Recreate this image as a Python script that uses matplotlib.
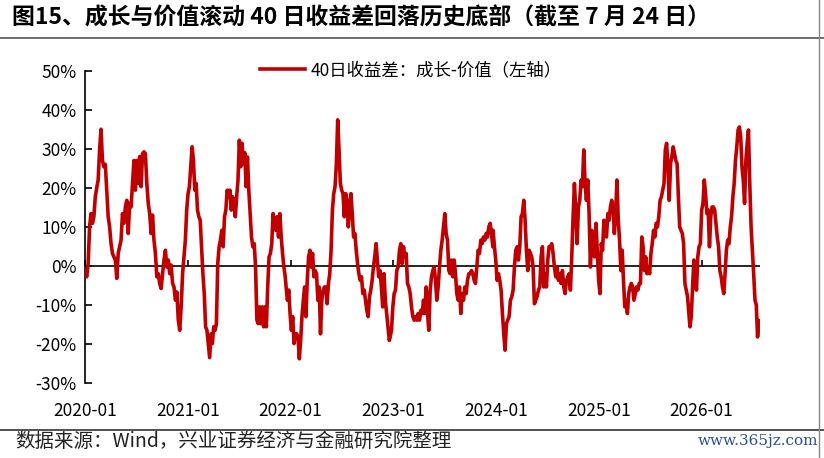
import numpy as np
import pandas as pd
import matplotlib
matplotlib.use('Agg')
import matplotlib.pyplot as plt
import matplotlib.dates as mdates
from matplotlib.ticker import FuncFormatter, MultipleLocator
from matplotlib.lines import Line2D

# 40日收益差：成长-价值（%），按年份分段读取，段内读数大致等间隔
seg_starts = ['2020-01-02', '2020-12-18', '2021-12-16', '2022-12-21',
              '2023-12-22', '2024-12-22', '2025-11-21']
seg_ends = ['2020-12-13', '2021-12-13', '2022-12-18', '2023-12-21',
            '2024-12-21', '2025-11-17', '2026-07-24']

spread_a = [-1.5, -2.8, 0.6, 10.0, 13.4, 10.9, 12.6, 17.7, 20.0, 22.0, 29.7, 35.0, 27.0, 25.4,
            26.0, 19.4, 12.6, 10.0, 5.7, 3.2, 2.3, 1.5, -3.2, 3.2, 4.9, 6.6, 13.4, 10.9, 15.1,
            16.8, 8.3, 16.0, 15.1, 21.1, 27.0, 19.4, 27.0, 21.1, 28.0, 20.3, 28.8, 29.2, 28.8,
            21.1, 16.0, 13.4, 8.3, 13.0, 6.6, 3.2, -2.8, -2.0, -4.5, -5.8, -2.0, 1.5, 4.0, -0.3,
            1.5, -2.0, 0.2, -4.5, -5.4, -8.8, -6.7, -13.9, -16.5, -10.5, -2.0]
spread_b = [2.3, 6.6, 14.3, 18.5, 20.3, 25.4, 30.5, 27.0, 19.4, 21.1, 14.3, 12.6, 11.7, 4.9, -2.0,
            -7.1, -15.6, -16.5, -19.9, -23.5, -17.4, -19.9, -15.6, -16.5, -14.8, 0.6, 4.9, 6.6,
            9.1, 4.9, 12.6, 14.3, 19.4, 17.7, 19.4, 14.3, 17.7, 16.0, 12.6, 17.7, 22.0, 32.2,
            25.4, 31.4, 26.2, 29.0, 20.3, 27.9, 19.4, 13.4, 7.4, 4.9, 5.7, -0.3, -13.9, -14.8,
            -10.5, -14.8, -10.5, -15.6, -10.5, -15.6, -5.4, 2.3, 3.2, 5.7, 13.4, 10.9, 9.1, 12.6,
            7.4, 13.4, 7.4, 3.2, -0.3, -2.8]
spread_c = [-5.4, -8.8, -6.2, -12.2, -16.5, -13.0, -19.9, -17.4, -17.4, -18.2, -23.8, -19.1,
            -13.0, -8.8, -5.4, -13.0, -3.7, 2.3, 4.0, -0.3, 3.2, -2.8, -1.2, -2.0, -8.8, -5.4,
            -17.4, -8.8, -6.2, -5.4, -5.4, -9.7, -4.5, -2.0, 4.0, 14.3, 18.5, 20.3, 26.2, 37.4,
            29.7, 21.1, 19.4, 18.5, 12.6, 18.5, 16.8, 10.0, 14.3, 18.5, 13.4, 7.4, 8.3, 4.0, 0.6,
            -2.0, -3.7, -2.8, -7.1, -6.2, -8.8, -11.4, -13.0, -7.9, -6.2, -3.7, -0.3, 2.3, 5.7,
            1.5, -2.8, -1.2, -5.4, -10.5, -2.0, -8.8, -12.2, -15.6, -19.1]
spread_d = [-18.2, -16.5, -10.5, -7.1, -6.2, -1.1, -0.3, 4.0, 5.7, 0.6, 4.9, 2.3, 3.2, -4.5,
            -5.4, -7.1, -10.5, -13.0, -13.9, -13.0, -13.9, -12.2, -13.9, -11.4, -12.2, -8.8,
            -12.2, -5.4, -12.2, -16.5, -6.2, -2.8, -1.2, -0.3, -3.7, -8.8, -5.4, -0.3, 4.0, 6.6,
            10.0, 13.4, 8.3, 6.6, -1.2, -2.0, 1.5, -2.8, 1.5, -2.0, -7.1, -8.8, -5.4, -12.2,
            -7.1, -8.8, -5.4, -7.1, -3.7, -2.0, -2.0, -1.2, -2.0, -3.7, -4.5, -0.3, 4.0, 3.2,
            6.6, 5.7, 7.4, 6.6, 8.3, 7.4, 10.0, 10.9, 8.3, 4.9]
spread_e = [9.1, 4.9, 1.5, -3.7, -2.0, -3.7, -6.2, -12.2, -17.4, -21.6, -14.8, -13.9, -13.0,
            -8.8, -7.9, -6.2, -0.3, 4.0, 4.9, 1.5, 4.9, 12.6, 13.4, 16.8, 11.7, 4.0, -1.2, 4.0,
            3.2, 2.3, -0.3, -9.7, -8.8, -7.9, -6.2, -5.4, 2.3, 4.9, -5.4, -2.0, -5.4, 1.5, 4.9,
            4.9, 5.7, 3.2, -0.3, -2.8, -0.3, -3.7, -2.0, -4.5, -1.2, -5.4, -7.1, -3.7, -2.8,
            -2.0, -6.2, 2.3, 12.6, 21.1, 14.3, 5.7, 15.1, 16.8, 22.0, 20.3, 29.7, 21.1, 16.8,
            22.0, 13.4, -0.3, 9.1, 6.6, 2.3, 9.1]
spread_f = [10.9, 3.2, -3.7, -7.1, 5.7, 4.0, 11.7, 8.3, 7.4, 13.4, 11.7, 15.1, 16.8, 15.1, 8.3,
            13.4, 22.0, 11.7, 6.6, -1.2, 4.0, -3.7, -10.5, -8.8, -12.2, -7.1, -5.4, -4.5, -5.4,
            -8.8, -7.1, -5.4, -6.2, -4.5, -4.5, 7.4, 4.9, -1.2, 2.3, -2.0, -0.3, -2.0, 3.2, 5.7,
            9.1, 7.4, 10.9, 10.0, 12.6, 16.8, 17.7, 19.4, 21.1, 29.7, 31.4, 25.4, 16.8, 26.2,
            28.0, 30.5, 28.8, 27.0, 26.2, 17.7, 10.0, 9.1, 8.3, 5.7, -4.5, -6.2, -7.9, -12.2]
spread_g = [-15.6, -13.0, -5.4, 1.5, -2.0, -6.2, 2.3, 4.9, 5.7, 14.3, 16.0, 22.0, 18.5, 13.4,
            14.3, 4.9, 12.6, 15.1, 15.1, 14.3, 10.9, 7.4, 4.9, -1.2, -2.8, -5.4, -7.1, -2.0, 4.0,
            6.6, 5.7, 10.0, 12.6, 17.7, 21.1, 27.0, 30.5, 34.8, 35.6, 33.1, 25.4, 22.0, 16.0,
            27.0, 31.4, 34.8, 21.1, 10.0, 4.0, -2.0, -8.8, -10.0, -18.2, -14.0]

segments = [spread_a, spread_b, spread_c, spread_d, spread_e, spread_f, spread_g]

y_ticks = [-30, -20, -10, 0, 10, 20, 30, 40, 50]

title = '图15、成长与价值滚动 40 日收益差回落历史底部（截至 7 月 24 日）'
legend_label = '40日收益差：成长-价值（左轴）'
source = '数据来源：Wind，兴业证券经济与金融研究院整理'

plt.rcParams['font.family'] = ['Noto Sans CJK SC', 'DejaVu Sans']
plt.rcParams['axes.unicode_minus'] = False

# build the date index segment by segment
dates, values = [], []
for start, end, seg in zip(seg_starts, seg_ends, segments):
    dates.extend(pd.date_range(start, end, periods=len(seg)))
    values.extend(seg)
series = pd.Series(values, index=pd.DatetimeIndex(dates))

W, H = 824, 458
fig = plt.figure(figsize=(W / 100, H / 100), dpi=100)
ax = fig.add_axes([85 / W, 1 - 383 / H, (760 - 85) / W, (383 - 70.7) / H])

ax.axhline(0, color='black', lw=1.2, zorder=1)
ax.plot(series.index, series.values, color='#C00000', lw=2.6, zorder=3,
        solid_joinstyle='round', label=legend_label)

ax.set_ylim(-30, 50)
ax.set_yticks(y_ticks)
ax.yaxis.set_major_formatter(FuncFormatter(lambda v, p: f'{v:.0f}%'))
ax.set_xlim(pd.Timestamp('2020-01-01'), pd.Timestamp('2026-07-28'))

for side in ['top', 'right', 'bottom']:
    ax.spines[side].set_visible(False)
ax.spines['left'].set_linewidth(1.2)

ax.tick_params(axis='y', direction='in', length=5, width=1.2, labelsize=12.5, pad=6,
               colors='black')
ax.xaxis.set_major_locator(mdates.YearLocator())
ax.xaxis.set_major_formatter(mdates.DateFormatter('%Y-%m'))
ax.tick_params(axis='x', length=0, labelsize=12.5, pad=14)

# small year ticks sitting on the zero line
sec = ax.secondary_xaxis(30 / 80)
sec.xaxis.set_major_locator(mdates.YearLocator())
sec.spines['bottom'].set_visible(False)
sec.tick_params(axis='x', direction='in', length=4, width=1.2, labelbottom=False)

ax.legend(loc='center', bbox_to_anchor=(411 / W, 1 - 70 / H), bbox_transform=fig.transFigure,
          frameon=False, fontsize=12.5, handlelength=2.6, handletextpad=0.3)

fig.text(12 / W, 1 - 18 / H, title, fontsize=16.5, fontweight='bold', va='center', ha='left')
fig.text(15 / W, 1 - 441 / H, source, fontsize=14, va='center', ha='left', color='#222222')
fig.text(818 / W, 1 - 441 / H, 'www.365jz.com', fontsize=11, va='center', ha='right',
         color='#2b4f9e', family='DejaVu Serif')

fig.add_artist(Line2D([0, 1], [1 - 38 / H, 1 - 38 / H], transform=fig.transFigure,
                      color='#555555', lw=1.2))
fig.add_artist(Line2D([0, 1], [1 - 430 / H, 1 - 430 / H], transform=fig.transFigure,
                      color='#333333', lw=1.2))
fig.add_artist(Line2D([819 / W, 819 / W], [0, 1], transform=fig.transFigure,
                      color='#888888', lw=1))

fig.savefig('out.png', dpi=100)
